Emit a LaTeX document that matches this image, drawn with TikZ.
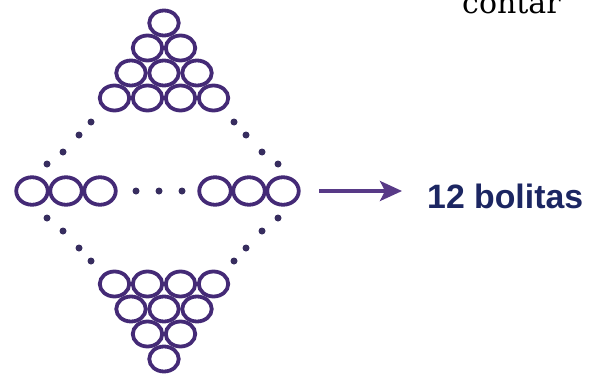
\documentclass[tikz,border=0pt]{standalone}
\usepackage{fontspec}
\setmainfont{Liberation Sans}
\newfontfamily\serifc{DejaVu Serif}
\usetikzlibrary{shapes.geometric,arrows.meta}
\definecolor{ballc}{RGB}{68,42,118}
\definecolor{dotc}{RGB}{55,45,95}
\definecolor{arrc}{RGB}{88,58,135}
\definecolor{txtc}{RGB}{28,38,98}
\begin{document}
\begin{tikzpicture}[x=1pt,y=-1pt,
  ball/.style={ellipse,draw=ballc,line width=3.8pt,minimum width=29.5pt,minimum height=25pt,inner sep=0pt},
  bigball/.style={ball,minimum width=31.5pt,minimum height=27.5pt},
  dotn/.style={circle,fill=dotc,minimum size=7pt,inner sep=0pt},
  arr/.style={draw=arrc,line width=3.5pt,-{Stealth[length=22pt,width=20pt,inset=5pt]}}]
\useasboundingbox (0,0) rectangle (601,377);
% top triangle
\foreach \x/\y/\n in {164/23/t1, 147.5/48/t2, 180.5/48/t3, 131/73/t4, 164/73/t5, 197/73/t6,
  114.5/98/t7, 147.5/98/t8, 180.5/98/t9, 213.5/98/t10}
  \node[ball] (\n) at (\x,\y) {};
% bottom triangle
\foreach \x/\y/\n in {114.5/284/b1, 147.5/284/b2, 180.5/284/b3, 213.5/284/b4,
  131/309/b5, 164/309/b6, 197/309/b7, 147.5/334/b8, 180.5/334/b9, 164/359/b10}
  \node[ball] (\n) at (\x,\y) {};
% middle row
\foreach \x/\n in {32/m1, 66/m2, 100/m3, 215/m4, 249/m5, 283/m6}
  \node[bigball] (\n) at (\x,191) {};
% dots
\foreach \x/\y/\n in {91/122/d1, 79/135/d2, 63/152/d3, 47/164/d4,
  47/218/d5, 63/231/d6, 79/248/d7, 91/261/d8,
  234/122/d9, 246/135/d10, 262/152/d11, 278/164/d12,
  278/218/d13, 262/231/d14, 246/248/d15, 234/261/d16,
  136/191/h1, 159/191/h2, 182/191/h3}
  \node[dotn] (\n) at (\x,\y) {};
% text
\node[anchor=base west,inner sep=0pt,text=txtc,font=\bfseries\fontsize{33.8}{40}\selectfont] (txt) at (427,208) {12 bolitas};
\node[anchor=base west,inner sep=0pt,font=\serifc\fontsize{30}{36}\selectfont] (contar) at (462,14) {contar};
% arrow
\draw[arr,shorten <=18.5pt,shorten >=25pt] (m6.east) -- (m6.east -| txt.west);
\end{tikzpicture}
\end{document}
